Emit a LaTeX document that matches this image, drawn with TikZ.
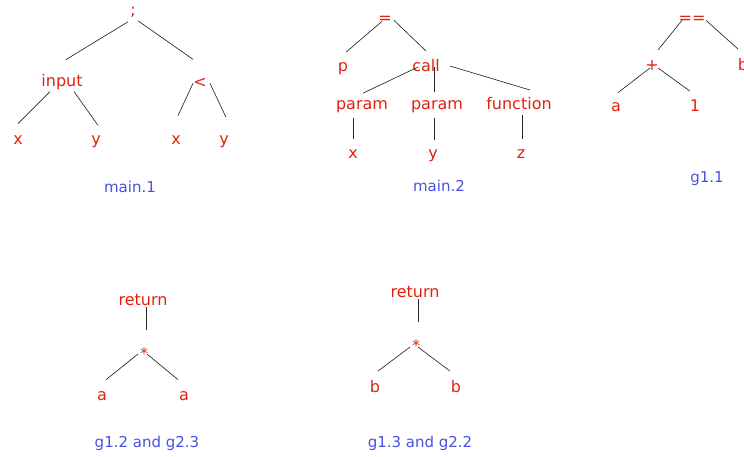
\documentclass[tikz,border=0pt]{standalone}
\usepackage{fontspec}
\setmainfont{DejaVu Sans}
\usetikzlibrary{calc}
\definecolor{lblred}{RGB}{228,32,14}
\definecolor{capblue}{RGB}{72,82,222}
\tikzset{
  lbl/.style={anchor=base,inner sep=0pt,text=lblred,font=\fontsize{16}{18}\selectfont},
  captxt/.style={anchor=base,inner sep=0pt,text=capblue,font=\fontsize{15}{17}\selectfont},
  link/.style={draw=black!85,line width=0.65pt}
}
\newcommand\edgeline[6]{\draw[link] ($(#1)+(#2,#3)$) -- ($(#4)+(#5,#6)$);}
\begin{document}
\begin{tikzpicture}[x=1pt,y=-1pt]
\path[use as bounding box] (0,0) rectangle (744,457);
\clip (0,0) rectangle (744,457);
% main.1
\node[lbl] (semi) at (133,16) {;};
\node[lbl] (input) at (62,87) {input};
\node[lbl] (lt) at (200,88) {<};
\node[lbl] (xa) at (18,145) {x};
\node[lbl] (ya) at (96,145) {y};
\node[lbl] (xb) at (176,145) {x};
\node[lbl] (yb) at (224,145) {y};
\node[captxt] (capA) at (130,193) {main.1};
\edgeline{semi}{-5}{9}{input}{4}{-23}
\edgeline{semi}{5}{8}{lt}{-7}{-24}
\edgeline{input}{-12}{9}{xa}{0}{-17}
\edgeline{input}{12}{9}{ya}{2}{-17}
\edgeline{lt}{-7}{0}{xb}{2}{-25}
\edgeline{lt}{10}{0}{yb}{2}{-25}
% main.2
\node[lbl] (eq) at (385,24) {=};
\node[lbl] (p) at (343,72) {p};
\node[lbl] (call) at (426,72) {call};
\node[lbl] (parA) at (362,110) {param};
\node[lbl] (parB) at (437,110) {param};
\node[lbl] (func) at (519,110) {function};
\node[lbl] (xc) at (353,159) {x};
\node[lbl] (yc) at (433,159) {y};
\node[lbl] (zc) at (521,159) {z};
\node[captxt] (capB) at (439,192) {main.2};
\edgeline{eq}{-3}{1}{p}{3}{-17}
\edgeline{eq}{9}{0}{call}{0}{-15}
\edgeline{call}{-8}{1}{parA}{1}{-14}
\edgeline{call}{8}{1}{parB}{-3}{-15}
\edgeline{call}{24}{0}{func}{11}{-14}
\edgeline{parA}{-9}{11}{xc}{0}{-16}
\edgeline{parB}{-3}{11}{yc}{1}{-16}
\edgeline{func}{3}{11}{zc}{1}{-16}
% g1.1
\node[lbl] (eqeq) at (692,24) {==};
\node[lbl] (plus) at (652,71) {+};
\node[lbl] (bb) at (743,71) {b};
\node[lbl] (aa) at (616,112) {a};
\node[lbl] (one) at (695,112) {1};
\node[captxt] (capC) at (707,183) {g1.1};
\edgeline{eqeq}{-10}{0}{plus}{6}{-16}
\edgeline{eqeq}{14}{0}{bb}{-5}{-16}
\edgeline{plus}{-2}{2}{aa}{2}{-15}
\edgeline{plus}{6}{2}{one}{-5}{-15}
% g1.2 and g2.3
\node[lbl] (retA) at (143,305) {return};
\node[lbl] (starA) at (144,359) {*};
\node[lbl] (aL) at (102,400) {a};
\node[lbl] (aR) at (184,400) {a};
\node[captxt] (capD) at (147,447) {g1.2 and g2.3};
\edgeline{retA}{3}{8}{starA}{2}{-23}
\edgeline{starA}{-6}{1}{aL}{4}{-16}
\edgeline{starA}{3}{1}{aR}{-6}{-16}
% g1.3 and g2.2
\node[lbl] (retB) at (415,297) {return};
\node[lbl] (starB) at (416,351) {*};
\node[lbl] (bL) at (375,392) {b};
\node[lbl] (bR) at (456,392) {b};
\node[captxt] (capE) at (420,447) {g1.3 and g2.2};
\edgeline{retB}{3}{8}{starB}{2}{-23}
\edgeline{starB}{-6}{2}{bL}{3}{-15}
\edgeline{starB}{2}{2}{bR}{-6}{-15}
\end{tikzpicture}
\end{document}
